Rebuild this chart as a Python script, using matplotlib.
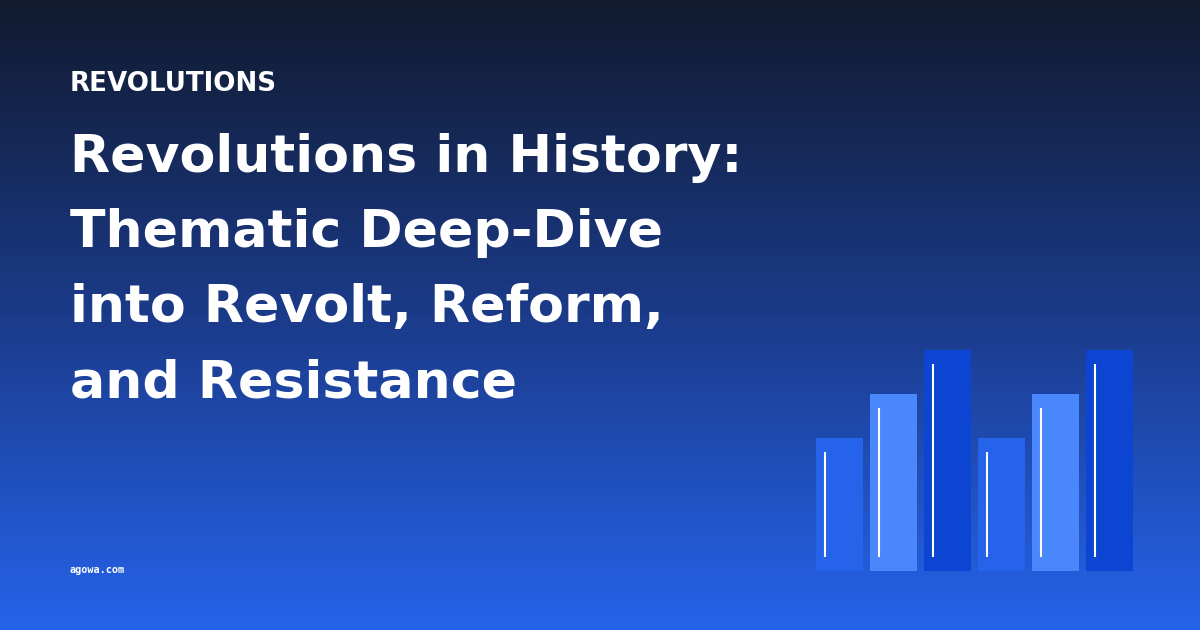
import numpy as np
import matplotlib
matplotlib.use("Agg")
import matplotlib.pyplot as plt
from matplotlib.colors import LinearSegmentedColormap

# ---- data ----
kicker = "REVOLUTIONS"
title_lines = ["Revolutions in History:", "Thematic Deep-Dive",
               "into Revolt, Reform,", "and Resistance"]
site = "agowa.com"
bar_values = [60, 80, 100, 60, 80, 100]
bar_colors = ["#2563eb", "#4a86fc", "#0b45d1", "#2563eb", "#4a86fc", "#0b45d1"]

W, H = 1200, 630
fig = plt.figure(figsize=(W / 100, H / 100), dpi=100)

# background gradient
bg = fig.add_axes([0, 0, 1, 1])
bg.set_xlim(0, W)
bg.set_ylim(H, 0)
bg.axis("off")
cmap = LinearSegmentedColormap.from_list("g", ["#111a2e", "#1b3b8a", "#2563eb"])
grad = np.linspace(0, 1, 256).reshape(-1, 1)
bg.imshow(grad, cmap=cmap, aspect="auto", extent=[0, W, H, 0], zorder=0)

# texts
bg.text(70, 91, kicker, color="white", fontsize=18.8, fontweight="bold",
        family="DejaVu Sans", va="baseline", ha="left")
for i, line in enumerate(title_lines):
    bg.text(70, 172 + 75 * i, line, color="white", fontsize=37.5,
            fontweight="bold", family="DejaVu Sans", va="baseline", ha="left")
bg.text(70, 573, site, color="white", fontsize=7.3, fontweight="bold",
        family="DejaVu Sans Mono", va="baseline", ha="left")

# bar chart decoration
x0, x1 = 816, 1133
y_bottom, y_top = 571, 350
ax = fig.add_axes([x0 / W, 1 - y_bottom / H, (x1 - x0) / W, (y_bottom - y_top) / H])
ax.axis("off")
n = len(bar_values)
bw = 47 / 54
xs = np.arange(n)
ax.bar(xs, bar_values, width=bw, color=bar_colors, linewidth=0)
ax.set_xlim(-bw / 2, n - 1 + bw / 2)
ax.set_ylim(0, max(bar_values))
pad_y = 14 / (y_bottom - y_top) * max(bar_values)
off_x = 9 / 54
vals = np.array(bar_values, dtype=float)
ax.vlines(xs - bw / 2 + off_x, pad_y, vals - pad_y, color="white", linewidth=1.5)

fig.savefig("out.png", dpi=100)
